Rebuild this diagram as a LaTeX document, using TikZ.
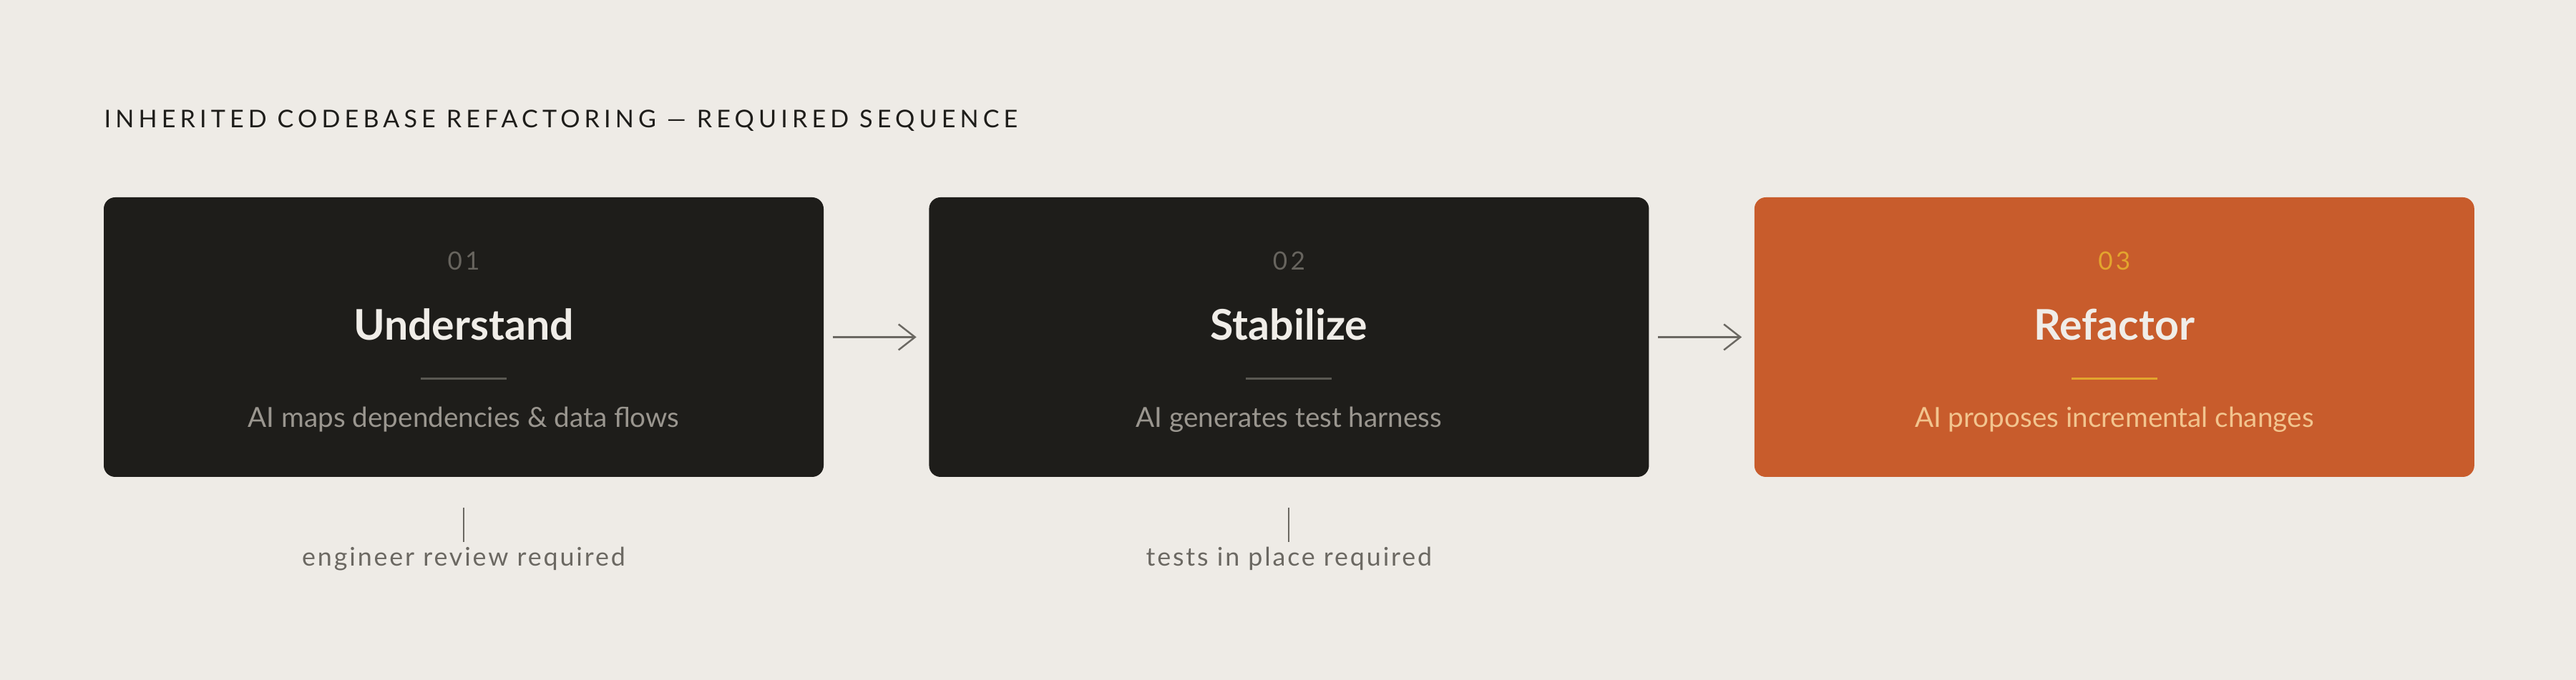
\documentclass[tikz,border=0pt]{standalone}
\usepackage{fontspec}
\setmainfont{Lato}
\newfontfamily\trackfont[LetterSpace=18]{Lato}
\newfontfamily\numfont[LetterSpace=12]{Lato}
\newfontfamily\notefont[LetterSpace=8]{Lato}
\usetikzlibrary{calc,arrows.meta,positioning}

\definecolor{paper}{HTML}{EEEBE6}
\definecolor{ink}{HTML}{1E1D1A}
\definecolor{rust}{HTML}{C85C2C}
\definecolor{dim}{HTML}{67645E}
\definecolor{rulegrey}{HTML}{5A5852}
\definecolor{fog}{HTML}{9A968F}
\definecolor{snow}{HTML}{F0EDE8}
\definecolor{gold}{HTML}{E3A52E}
\definecolor{peach}{HTML}{F2C48E}
\definecolor{slate}{HTML}{6B6862}

\tikzset{
  stepbox/.style={minimum width=10.06cm,minimum height=3.91cm,inner sep=0pt,
    rounded corners=0.16cm},
  stepnum/.style={anchor=base,inner sep=0pt,font=\numfont\fontsize{10pt}{12pt}\selectfont},
  stephead/.style={anchor=base,inner sep=0pt,text=snow,
    font=\fontsize{16.8pt}{19pt}\selectfont\bfseries},
  stepdesc/.style={anchor=base,inner sep=0pt,font=\fontsize{11pt}{13pt}\selectfont},
  flowarrow/.style={slate,line width=0.7pt,shorten <=0.12cm,shorten >=0.17cm,
    -{Straight Barb[length=0.23cm,width=0.36cm]}},
  gatetick/.style={slate,line width=0.6pt},
  gatelabel/.style={anchor=base,inner sep=0pt,text=slate,
    font=\notefont\fontsize{10.2pt}{12pt}\selectfont}
}

\begin{document}
\begin{tikzpicture}
  \useasboundingbox (0,0) rectangle (36,9.51);
  \fill[paper] (0,0) rectangle (36,9.51);

  % heading
  \node[anchor=base west,inner sep=0pt,text=ink,
        font=\trackfont\fontsize{9.7pt}{12pt}\selectfont] (title) at (1.45,7.72)
        {INHERITED CODEBASE REFACTORING — REQUIRED SEQUENCE};

  % the three steps
  \node[stepbox,fill=ink] (und) at (6.48,4.795) {};
  \node[stepbox,fill=ink,right=1.46cm of und] (stab) {};
  \node[stepbox,fill=rust,right=1.46cm of stab] (refac) {};

  \foreach \b/\n/\h/\d/\nc/\rc/\dc in {
      und/01/Understand/{AI maps dependencies \& data flows}/dim/rulegrey/fog,
      stab/02/Stabilize/{AI generates test harness}/dim/rulegrey/fog,
      refac/03/Refactor/{AI proposes incremental changes}/gold/gold/peach}
    {
      \node[stepnum,text=\nc] (\b-num) at ($(\b.center)+(0,0.935)$) {\n};
      \node[stephead] (\b-head) at ($(\b.center)+(0,-0.045)$) {\h};
      \draw[\rc,line width=0.033cm] ($(\b.center)+(-0.6,-0.58)$) -- ++(1.2,0);
      \node[stepdesc,text=\dc] (\b-desc) at ($(\b.center)+(0,-1.265)$) {\d};
    }

  % connectors
  \foreach \a/\c in {und/stab,stab/refac}
    \draw[flowarrow] (\a) -- (\c);

  % gates below the first two steps
  \foreach \b/\g in {und/{engineer review required},stab/{tests in place required}}
    {
      \draw[gatetick] ($(\b.south)+(0,-0.42)$) -- ($(\b.south)+(0,-0.90)$);
      \node[gatelabel] (\b-gate) at ($(\b.south)+(0,-1.24)$) {\g};
    }
\end{tikzpicture}
\end{document}
